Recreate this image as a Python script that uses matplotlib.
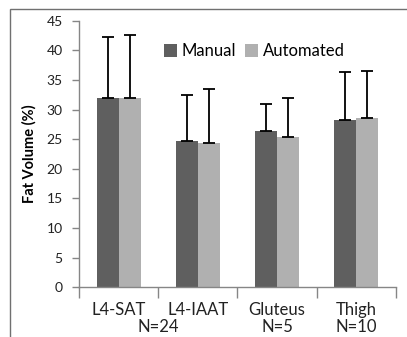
import matplotlib
matplotlib.use("Agg")
import matplotlib.pyplot as plt
import numpy as np
from matplotlib.patches import Rectangle
from matplotlib.transforms import blended_transform_factory

plt.rcParams["font.family"] = ["Lato", "DejaVu Sans"]

categories = ["L4-SAT", "L4-IAAT", "Gluteus", "Thigh"]
manual = [32.0, 24.6, 26.3, 28.3]
automated = [32.0, 24.3, 25.3, 28.6]
manual_err = [10.2, 7.9, 4.6, 8.0]
automated_err = [10.6, 9.2, 6.7, 7.9]
n_labels = ["N=24", "N=5", "N=10"]
n_positions = [0.5, 2.0, 3.0]

MANUAL_COLOR = "#5f5f5f"
AUTO_COLOR = "#b0b0b0"
AXIS_GRAY = "#868686"
TEXT_COLOR = "#222222"

fig = plt.figure(figsize=(4.07, 3.37), dpi=100)
ax = fig.add_axes([0.195, 0.148, 0.777, 0.7906])

# chart area border (partly cut off by the image edge)
fig.patches.append(Rectangle((10 / 407, -0.1), 1.2, 1 - 9.5 / 337 + 0.1,
                             transform=fig.transFigure, fill=False,
                             edgecolor="#707070", linewidth=1.0))

x = np.arange(len(categories))
width = 0.278
err_kw = dict(ecolor="black", elinewidth=1.3, capsize=4.3, capthick=1.3)
ax.bar(x - width / 2, manual, width, color=MANUAL_COLOR, label="Manual",
       yerr=[np.zeros(len(manual)), manual_err], error_kw=err_kw)
ax.bar(x + width / 2, automated, width, color=AUTO_COLOR, label="Automated",
       yerr=[np.zeros(len(automated)), automated_err], error_kw=err_kw)

ax.set_xlim(-0.5, len(categories) - 0.5)
ax.set_ylim(0, 45)
ax.set_yticks(np.arange(0, 46, 5))
ax.set_xticks(x)
ax.set_xticklabels(categories, fontsize=12, color=TEXT_COLOR)
ax.set_xticks(np.arange(-0.5, len(categories), 1.0), minor=True)
ax.tick_params(axis="x", which="major", length=0, pad=11)
ax.tick_params(axis="x", which="minor", length=8, color=AXIS_GRAY, width=1)
ax.tick_params(axis="y", length=5, color=AXIS_GRAY, width=1, labelsize=10,
               labelcolor=TEXT_COLOR, pad=7)

for side in ("top", "right"):
    ax.spines[side].set_visible(False)
for side in ("left", "bottom"):
    ax.spines[side].set_color(AXIS_GRAY)
    ax.spines[side].set_linewidth(1)

trans = blended_transform_factory(ax.transData, ax.transAxes)
for pos, lab in zip(n_positions, n_labels):
    ax.text(pos, -0.148, lab, transform=trans, ha="center", va="center",
            fontsize=12, color=TEXT_COLOR)

ax.set_ylabel("Fat Volume (%)", fontsize=10.5, fontweight="bold", labelpad=7)

ax.legend(loc="upper left", bbox_to_anchor=(0.245, 0.94), ncol=2, frameon=False,
          fontsize=12, handlelength=0.8, handleheight=0.8,
          handletextpad=0.3, columnspacing=0.5, borderaxespad=0)

fig.savefig("out.png", dpi=100)
